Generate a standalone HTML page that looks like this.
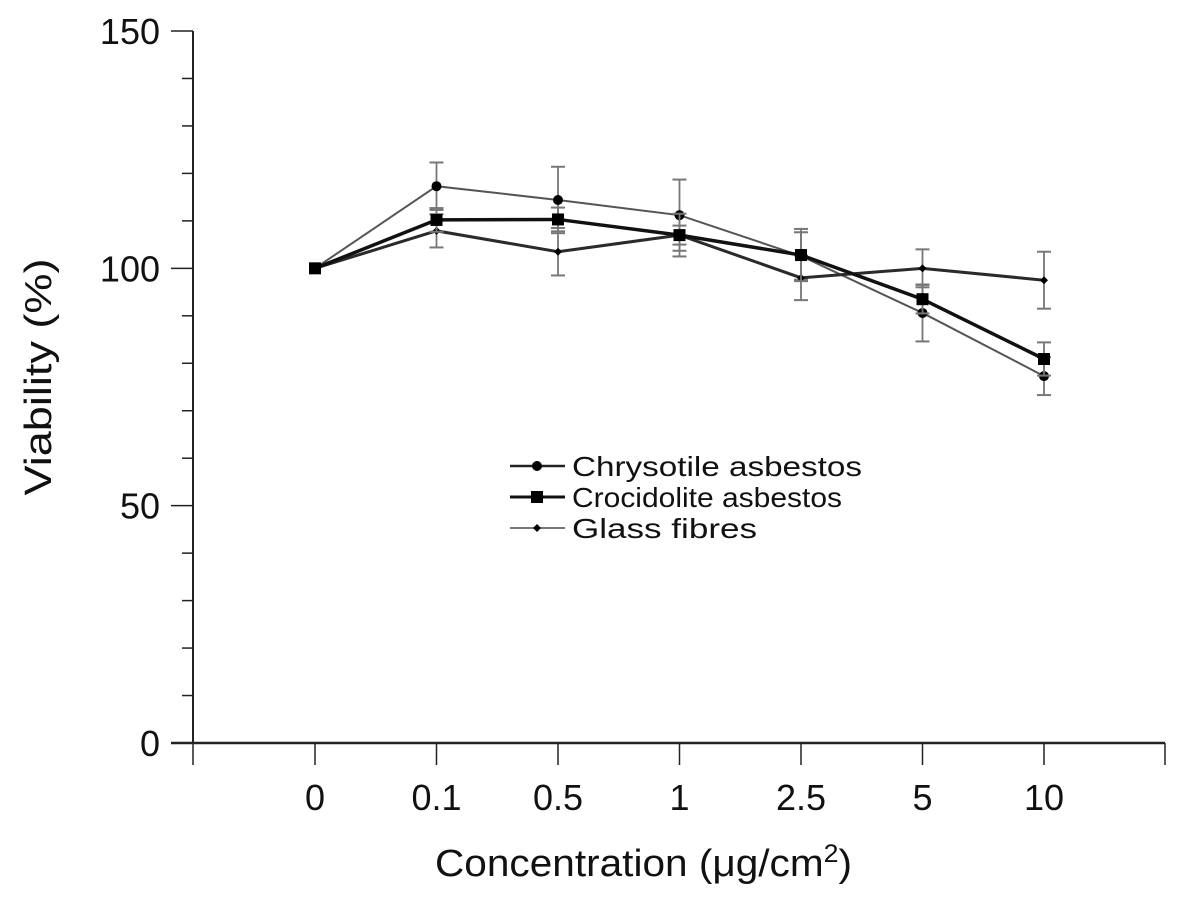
<!DOCTYPE html>
<html><head><meta charset="utf-8"><style>
body{margin:0;background:#fff;}
svg text{font-family:"Liberation Sans",Arial,sans-serif;fill:#111;}
</style></head><body>
<svg id="chart" width="1181" height="903" xmlns="http://www.w3.org/2000/svg"></svg>
<script>
const categories=["0","0.1","0.5","1","2.5","5","10"];
const yTicks=[0,50,100,150];
const chrysotile=[100,117.3,114.4,111.2,102.6,90.6,77.3];
const chrysotileErr=[0,5,7,7.5,5,6,4];
const crocidolite=[100,110.2,110.3,107,102.8,93.5,80.9];
const crocidoliteErr=[0,2.5,2.5,2,5.5,3,3.5];
const glass=[100,107.9,103.5,107,98,100,97.5];
const glassErr=[0,3.5,5,4.5,4.7,4,6];
const seriesNames=["Chrysotile asbestos","Crocidolite asbestos","Glass fibres"];

const NS="http://www.w3.org/2000/svg";
const svg=document.getElementById('chart');
const x0=193,x1=1165,yTop=31,yBot=743;
function xs(i){return 315+i*121.5;}
function ys(v){return yBot-(v/150)*(yBot-yTop);}
function mk(t,a,p){const e=document.createElementNS(NS,t);for(const k in a)e.setAttribute(k,a[k]);(p||svg).appendChild(e);return e;}

let g=mk('g',{});


mk('line',{x1:x0,y1:yTop,x2:x0,y2:yBot,stroke:'#222','stroke-width':2},g);
for(let v=0;v<=150;v+=10){
  const big=v%50===0;
  mk('line',{x1:x0-(big?22:11),y1:ys(v),x2:x0,y2:ys(v),stroke:'#222','stroke-width':1.5},g);
}
yTicks.forEach(v=>{const t=mk('text',{x:160,y:ys(v)+13,'text-anchor':'end','font-size':36},g);t.textContent=v;

});
let yt=mk('text',{x:0,y:0,'text-anchor':'middle','font-size':38,textLength:237,lengthAdjust:'spacingAndGlyphs',transform:'translate(51,377) rotate(-90)'});
yt.textContent='Viability (%)';



g=mk('g',{});


mk('line',{x1:x0-22,y1:yBot,x2:x1,y2:yBot,stroke:'#222','stroke-width':2.5},g);
mk('line',{x1:x0,y1:yBot,x2:x0,y2:yBot+22,stroke:'#222','stroke-width':1.5},g);
mk('line',{x1:x1,y1:yBot,x2:x1,y2:yBot+22,stroke:'#222','stroke-width':1.5},g);
categories.forEach((c,i)=>{
  mk('line',{x1:xs(i),y1:yBot,x2:xs(i),y2:yBot+22,stroke:'#222','stroke-width':1.5},g);
  const t=mk('text',{x:xs(i),y:810,'text-anchor':'middle','font-size':36},g);t.textContent=c;
  
  
});
let xt=mk('text',{x:435,y:876,'font-size':38,textLength:417,lengthAdjust:'spacingAndGlyphs'});
xt.innerHTML='Concentration (μg/cm<tspan dy="-14" font-size="25">2</tspan><tspan dy="14">)</tspan>';



const defs=[
 {vals:chrysotile,err:chrysotileErr,color:'#555',w:2,marker:'circle',ms:5,name:'chrysotile'},
 {vals:glass,err:glassErr,color:'#2a2a2a',w:3,marker:'diamond',ms:4,name:'glass-fibres'},
 {vals:crocidolite,err:crocidoliteErr,color:'#111',w:3.5,marker:'square',ms:6,name:'crocidolite'}
];
function marker(type,x,y,s,p,color){
  if(type==='circle')return mk('circle',{cx:x,cy:y,r:s,fill:'#000'},p);
  if(type==='square')return mk('rect',{x:x-s,y:y-s,width:2*s,height:2*s,fill:'#000'},p);
  return mk('polygon',{points:`${x},${y-s} ${x+s},${y} ${x},${y+s} ${x-s},${y}`,fill:'#000'},p);
}
defs.forEach(d=>{
  const sg=mk('g',{});
  
  
  d.vals.forEach((v,i)=>{
    if(!d.err[i])return;
    const x=xs(i);
    mk('line',{x1:x,y1:ys(v-d.err[i]),x2:x,y2:ys(v+d.err[i]),stroke:'#777','stroke-width':1.8},sg);
    [v-d.err[i],v+d.err[i]].forEach(e=>mk('line',{x1:x-7,y1:ys(e),x2:x+7,y2:ys(e),stroke:'#777','stroke-width':2},sg));
  });
  mk('polyline',{points:d.vals.map((v,i)=>xs(i)+','+ys(v)).join(' '),fill:'none',stroke:d.color,'stroke-width':d.w},sg);
  d.vals.forEach((v,i)=>{const m=marker(d.marker,xs(i),ys(v),d.ms,sg);
    
    });
});

const lg=mk('g',{});


const legDefs=[['circle','#222',2.5,5],['square','#111',3,6],['diamond','#777',2,4]];
const legLen=[290,270,185];
seriesNames.forEach((n,i)=>{
  const y=466+i*31;
  const e=mk('g',{},lg);
  
  
  mk('line',{x1:510,y1:y,x2:565,y2:y,stroke:legDefs[i][1],'stroke-width':legDefs[i][2]},e);
  marker(legDefs[i][0],537,y,legDefs[i][3],e);
  const t=mk('text',{x:572,y:y+10,'font-size':28,textLength:legLen[i],lengthAdjust:'spacingAndGlyphs'},e);t.textContent=n;
});
</script>
</body></html>
